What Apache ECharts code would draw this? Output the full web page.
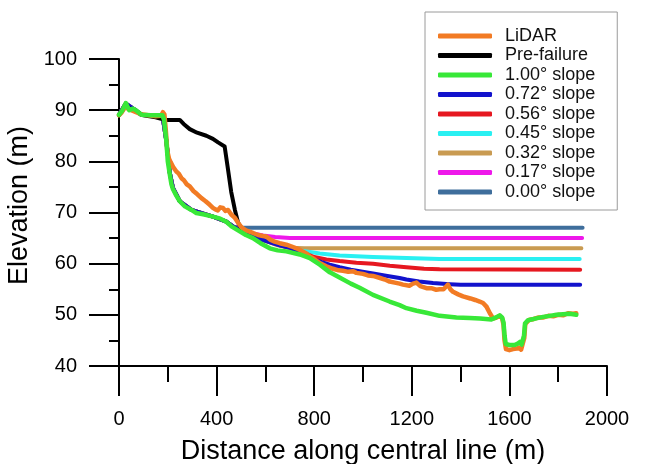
<!DOCTYPE html>
<html>
<head>
<meta charset="utf-8">
<script src="https://cdn.jsdelivr.net/npm/echarts@6/dist/echarts.min.js"></script>
<style>
  html, body { margin: 0; padding: 0; background: #fff; }
  #chart { width: 658px; height: 464px; }
</style>
</head>
<body>
<div id="chart"></div>
<script>
// Longitudinal elevation profile along the central line: surveyed LiDAR surface,
// pre-failure surface and simulated deposit surfaces for several slopes.

const xTicks = [0, 400, 800, 1200, 1600, 2000];
const yTicks = [40, 50, 60, 70, 80, 90, 100];

const seriesNames = [
  'LiDAR', 'Pre-failure', '1.00\u00b0 slope', '0.72\u00b0 slope', '0.56\u00b0 slope',
  '0.45\u00b0 slope', '0.32\u00b0 slope', '0.17\u00b0 slope', '0.00\u00b0 slope'
];

// [distance (m), elevation (m)]
const lidar = [
  [0, 89.0], [10, 89.5], [25, 90.6], [40, 90.2], [55, 89.9], [70, 89.6], [90, 89.2],
  [120, 89.0], [150, 88.8], [172, 88.9], [180, 89.6], [186, 89.2], [192, 86.0],
  [198, 82.0], [205, 80.5], [212, 79.8], [222, 78.9], [235, 78.0], [245, 77.6],
  [256, 76.7], [266, 76.3], [278, 75.5], [290, 75.1], [305, 74.2], [320, 73.6],
  [338, 72.8], [355, 72.2], [372, 71.5], [385, 70.9], [395, 70.6], [405, 70.4],
  [415, 71.0], [426, 70.9], [436, 70.3], [447, 70.5], [460, 69.6], [474, 69.0],
  [488, 68.0], [502, 67.1], [520, 66.5], [549, 66.0], [570, 65.6], [590, 65.4],
  [604, 65.3], [620, 64.7], [638, 64.3], [659, 64.0], [686, 63.7], [705, 63.4],
  [727, 63.0], [745, 62.6], [768, 62.0], [782, 61.4], [800, 60.9], [823, 60.1],
  [850, 59.5], [877, 59.0], [900, 58.7], [918, 58.6], [940, 58.4], [960, 58.5],
  [973, 58.2], [1000, 58.0], [1020, 57.7], [1041, 57.6], [1070, 57.2], [1090, 56.9],
  [1109, 56.5], [1130, 56.3], [1150, 56.1], [1164, 55.9], [1190, 55.7], [1205, 56.1],
  [1219, 56.3], [1235, 55.6], [1260, 55.2], [1280, 55.2], [1300, 54.9], [1314, 55.0],
  [1330, 55.0], [1340, 55.5], [1348, 55.9], [1358, 55.0], [1369, 54.5], [1390, 54.0],
  [1410, 53.6], [1440, 53.2], [1460, 52.9], [1478, 52.6], [1492, 52.3], [1506, 51.6],
  [1520, 50.3], [1533, 49.3], [1545, 49.4], [1560, 49.8], [1570, 49.4], [1576, 48.0],
  [1580, 45.0], [1586, 43.3], [1600, 43.1], [1615, 43.3], [1630, 43.4], [1640, 43.6],
  [1648, 43.2], [1656, 43.1], [1661, 45.5], [1665, 48.2], [1680, 49.0], [1700, 49.2],
  [1720, 49.5], [1740, 49.5], [1760, 49.8], [1780, 49.7], [1800, 50.0], [1820, 49.9],
  [1840, 50.3], [1860, 50.2], [1874, 50.3]
];

const preFailure = [
  [0, 89.0], [15, 90.0], [30, 91.0], [45, 90.2], [60, 90.2], [80, 89.5], [100, 89.0],
  [150, 88.6], [188, 88.1], [249, 88.1], [265, 87.3], [290, 86.3], [320, 85.6],
  [358, 85.0], [385, 84.4], [406, 83.7], [433, 82.9], [445, 79.0], [460, 74.0],
  [475, 70.5], [488, 68.0], [502, 66.9]
];

const slope100 = [
  [0, 89.1], [12, 89.8], [28, 91.4], [42, 90.0], [58, 90.3], [72, 89.9], [92, 89.1],
  [130, 89.0], [178, 89.0], [184, 88.2], [194, 84.0], [200, 80.0], [208, 77.5],
  [215, 75.5], [221, 74.6], [235, 73.3], [249, 72.2], [270, 71.2], [297, 70.5],
  [317, 69.9], [350, 69.6], [385, 69.2], [415, 68.8], [440, 68.2], [461, 67.3],
  [495, 66.3], [520, 65.6], [549, 65.0], [580, 64.0], [618, 63.0], [650, 62.6],
  [686, 62.4], [741, 61.8], [782, 61.1], [823, 59.8], [864, 58.3], [904, 57.3],
  [950, 56.1], [986, 55.3], [1041, 53.9], [1109, 52.6], [1150, 51.9], [1178, 51.3],
  [1220, 50.8], [1260, 50.4], [1314, 49.8], [1383, 49.5], [1437, 49.4], [1480, 49.3],
  [1526, 49.1], [1545, 49.5], [1560, 49.9], [1570, 49.5], [1576, 48.5], [1580, 46.0],
  [1585, 44.3], [1600, 44.1], [1620, 44.1], [1632, 44.3], [1643, 44.7], [1650, 44.2],
  [1656, 44.1], [1660, 46.0], [1664, 48.3], [1675, 48.9], [1690, 49.1], [1710, 49.3],
  [1738, 49.6], [1765, 49.8], [1793, 50.0], [1820, 50.1], [1847, 50.2], [1874, 50.0]
];

// Shared upstream reach of the simulated surfaces
const slopeBase = [
  [0, 89.1], [28, 91.3], [58, 90.3], [92, 89.1], [178, 89.0], [194, 84.0], [208, 77.8],
  [221, 74.8], [249, 72.2], [297, 70.5], [385, 69.2], [440, 68.2], [470, 67.2],
  [495, 66.6], [549, 65.3], [604, 64.4], [659, 63.6], [700, 63.1]
];

// Downstream reach of each simulated surface
const slope072Tail = [
  [741, 62.2], [782, 61.2], [830, 60.3], [864, 59.8], [904, 59.3], [950, 58.8],
  [986, 58.5], [1041, 58.1], [1100, 57.6], [1150, 57.2], [1178, 56.9], [1230, 56.5],
  [1287, 56.2], [1355, 56.0], [1400, 55.9], [1890, 55.9]
];
const slope056Tail = [
  [741, 62.4], [768, 61.9], [800, 61.3], [850, 60.8], [904, 60.5], [973, 60.2],
  [1041, 60.0], [1110, 59.6], [1178, 59.3], [1250, 59.0], [1314, 58.9], [1890, 58.8]
];
const slope045Tail = [
  [741, 62.6], [823, 62.0], [904, 61.6], [1041, 61.3], [1178, 61.1], [1314, 60.9],
  [1888, 60.9]
];
const slope032Tail = [[650, 63.6], [700, 63.1], [760, 63.0], [1895, 63.0]];
const slope017Tail = [[500, 66.6], [540, 66.0], [590, 65.5], [640, 65.2], [700, 65.0], [1898, 65.0]];
const slope000Tail = [[502, 67.0], [1900, 67.0]];

// Distance where each surface leaves the shared reach
const branchAt = { s072: 700, s056: 700, s045: 700, s032: 604, s017: 470, s000: 470 };

const withBase = (limit, tail) => slopeBase.filter(p => p[0] <= limit).concat(tail);

const colors = {
  lidar: '#F27B24', pre: '#000000', s100: '#38E838', s072: '#1212CC', s056: '#E61820',
  s045: '#2AF0F2', s032: '#C99B52', s017: '#EE18EA', s000: '#3F6E9C'
};

const FONT = "'Liberation Sans', Arial, sans-serif";

function lineSeries(name, data, color, width, z) {
  return {
    name: name,
    type: 'line',
    data: data,
    symbol: 'none',
    showSymbol: false,
    z: z,
    lineStyle: { color: color, width: width, cap: 'round', join: 'round' },
    itemStyle: { color: color },
    emphasis: { disabled: true },
    animation: false
  };
}

// Drawn from back to front; the legend keeps its own order
const series = [
  lineSeries(seriesNames[8], withBase(branchAt.s000, slope000Tail), colors.s000, 4, 2),
  lineSeries(seriesNames[7], withBase(branchAt.s017, slope017Tail), colors.s017, 4, 2),
  lineSeries(seriesNames[6], withBase(branchAt.s032, slope032Tail), colors.s032, 4, 2),
  lineSeries(seriesNames[5], withBase(branchAt.s045, slope045Tail), colors.s045, 4, 2),
  lineSeries(seriesNames[4], withBase(branchAt.s056, slope056Tail), colors.s056, 4, 2),
  lineSeries(seriesNames[3], withBase(branchAt.s072, slope072Tail), colors.s072, 4, 2),
  lineSeries(seriesNames[1], preFailure, colors.pre, 4, 3),
  lineSeries(seriesNames[0], lidar, colors.lidar, 4.5, 4),
  lineSeries(seriesNames[2], slope100, colors.s100, 4.5, 5)
];

const chart = echarts.init(document.getElementById('chart'), null, { renderer: 'canvas' });

const axisCommon = {
  axisLine: { show: true, lineStyle: { color: '#000', width: 2 } },
  axisTick: { show: true, inside: false, length: 30, lineStyle: { color: '#000', width: 2 } },
  minorTick: { show: true, splitNumber: 2, lineStyle: { color: '#000', width: 2 } },
  splitLine: { show: false },
  minorSplitLine: { show: false }
};

const plainNumber = v => String(v);

chart.setOption({
  animation: false,
  backgroundColor: '#ffffff',
  grid: {
    left: 119, right: 51, top: 59, bottom: 98,
    containLabel: false, outerBoundsMode: 'none'
  },
  legend: {
    orient: 'vertical',
    left: 425,
    top: 12,
    data: seriesNames,
    icon: 'roundRect',
    itemWidth: 54,
    itemHeight: 5,
    itemGap: 1.5,
    padding: [15, 22, 9, 13],
    borderColor: '#9a9a9a',
    borderWidth: 1,
    selectedMode: false,
    itemStyle: { borderWidth: 0 },
    textStyle: {
      fontFamily: FONT, fontSize: 18, color: '#111', lineHeight: 18,
      padding: [0, 0, 0, 8]
    }
  },
  xAxis: Object.assign({}, axisCommon, {
    type: 'value',
    min: xTicks[0],
    max: xTicks[xTicks.length - 1],
    interval: xTicks[1] - xTicks[0],
    minorTick: Object.assign({}, axisCommon.minorTick, { length: 16 }),
    axisLabel: { fontFamily: FONT, fontSize: 20, color: '#000', margin: 43, formatter: plainNumber },
    name: 'Distance along central line (m)',
    nameLocation: 'middle',
    nameGap: 72,
    nameTextStyle: { fontFamily: FONT, fontSize: 27, color: '#000' }
  }),
  yAxis: Object.assign({}, axisCommon, {
    type: 'value',
    min: yTicks[0],
    max: yTicks[yTicks.length - 1],
    interval: yTicks[1] - yTicks[0],
    minorTick: Object.assign({}, axisCommon.minorTick, { length: 10 }),
    axisLabel: { fontFamily: FONT, fontSize: 20, color: '#000', margin: 42, formatter: plainNumber },
    name: 'Elevation (m)',
    nameLocation: 'middle',
    nameGap: 79,
    nameTextStyle: { fontFamily: FONT, fontSize: 27, color: '#000', padding: [0, 0, 0, 14] }
  }),
  series: series
});
</script>
</body>
</html>
